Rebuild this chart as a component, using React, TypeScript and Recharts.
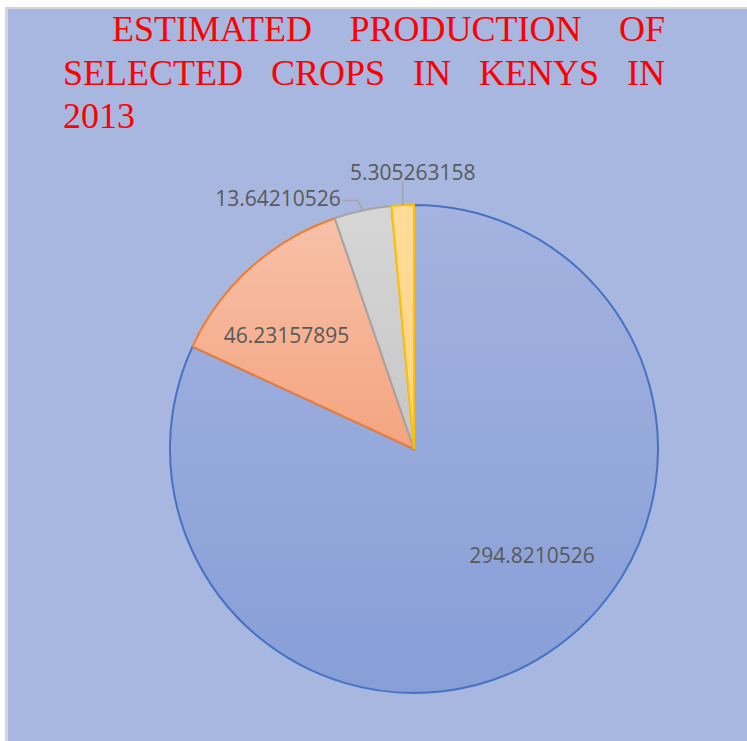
import React from 'react';
import { PieChart, Pie, Cell } from 'recharts';

// values (they add up to 360)
const crops = ['Crop 1', 'Crop 2', 'Crop 3', 'Crop 4'];
const production = [294.8210526, 46.23157895, 13.64210526, 5.305263158];
const valueLabels = ['294.8210526', '46.23157895', '13.64210526', '5.305263158'];

const titleLines = ['ESTIMATED PRODUCTION OF', 'SELECTED CROPS IN KENYS IN', '2013'];

const chartData = crops.map((name, i) => ({ name, value: production[i], label: valueLabels[i] }));

// styling
const strokes = ['#4472C4', '#ED7D31', '#A5A5A5', '#FFC000'];
const gradTop = ['#A4B3DF', '#F7C1A9', '#D6D6D6', '#FFDC9A'];
const gradBottom = ['#879ED7', '#F4A47F', '#C7C7C7', '#FFD47E'];
const RADIAN = Math.PI / 180;

// inside labels: shift from the slice mid angle and radius factor
const insidePlace: Record<number, { shift: number; r: number }> = {
  0: { shift: 15.5, r: 0.65 },
  1: { shift: 6.2, r: 0.7 },
};

const renderLabel = (props: any) => {
  const { cx, cy, midAngle, outerRadius, index } = props;
  const text = chartData[index].label;
  const style = { fontFamily: '"Open Sans", sans-serif', fontSize: 21, fill: '#595959' };
  const inside = insidePlace[index];
  if (inside) {
    const a = (midAngle + inside.shift) * RADIAN;
    const r = outerRadius * inside.r;
    return (
      <text x={cx + r * Math.cos(a)} y={cy - r * Math.sin(a)} textAnchor="middle" dominantBaseline="central" {...style}>
        {text}
      </text>
    );
  }
  const a = midAngle * RADIAN;
  const px = cx + outerRadius * Math.cos(a);
  const py = cy - outerRadius * Math.sin(a);
  if (index === 2) {
    const points = `${px},${py} ${px - 5},${py - 10} ${px - 20},${py - 10}`;
    return (
      <g>
        <polyline points={points} fill="none" stroke="#A5A5A5" strokeWidth={1.5} />
        <text x={px - 22} y={py - 12} textAnchor="end" dominantBaseline="central" {...style}>
          {text}
        </text>
      </g>
    );
  }
  return (
    <g>
      <polyline points={`${px},${py} ${px},${py - 24}`} fill="none" stroke="#A5A5A5" strokeWidth={1.5} />
      <text x={px + 10} y={py - 33} textAnchor="middle" dominantBaseline="central" {...style}>
        {text}
      </text>
    </g>
  );
};

const titleStyle: React.CSSProperties = {
  fontFamily: '"Liberation Serif", "Times New Roman", serif',
  fontSize: 36,
  lineHeight: '43.5px',
  color: '#FF0000',
  whiteSpace: 'nowrap',
};

export default function App() {
  return (
    <div style={{ position: 'relative', width: 747, height: 741, background: '#fff', overflow: 'hidden' }}>
      <style>{'body{margin:0}'}</style>
      <div
        style={{
          position: 'absolute',
          left: 5,
          top: 7,
          width: 742,
          height: 734,
          borderTop: '2px solid #D5D5D5',
          borderLeft: '3px solid #D5D5D5',
          background: '#A8B7DF',
        }}
      >
        <PieChart width={739} height={732}>
          <defs>
            {crops.map((c, i) => (
              <linearGradient key={c} id={`slice${i}`} x1="0" y1="0" x2="0" y2="1">
                <stop offset="0%" stopColor={gradTop[i]} />
                <stop offset="100%" stopColor={gradBottom[i]} />
              </linearGradient>
            ))}
          </defs>
          <Pie
            data={chartData}
            dataKey="value"
            nameKey="name"
            cx={401}
            cy={435}
            outerRadius={244}
            startAngle={90}
            endAngle={-270}
            label={renderLabel}
            labelLine={false}
            isAnimationActive={false}
          >
            {chartData.map((d, i) => (
              <Cell key={d.name} fill={`url(#slice${i})`} stroke={strokes[i]} strokeWidth={2} />
            ))}
          </Pie>
        </PieChart>
      </div>
      <div style={{ position: 'absolute', left: 63, top: 8, width: 602 }}>
        <div style={{ ...titleStyle, textAlign: 'justify', textAlignLast: 'justify', textIndent: 49, whiteSpace: 'normal' }}>
          {titleLines[0]}
        </div>
        <div style={{ ...titleStyle, textAlign: 'justify', textAlignLast: 'justify', whiteSpace: 'normal' }}>
          {titleLines[1]}
        </div>
        <div style={titleStyle}>{titleLines[2]}</div>
      </div>
    </div>
  );
}
